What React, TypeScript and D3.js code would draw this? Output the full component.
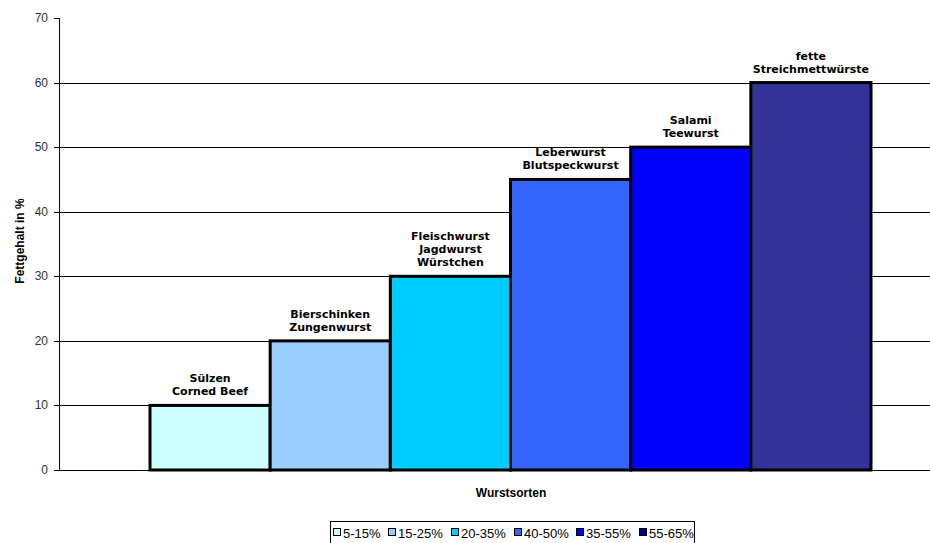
import React from "react";
import * as d3 from "d3";

const categories = ["5-15%", "15-25%", "20-35%", "40-50%", "35-55%", "55-65%"];
const values = [10, 20, 30, 45, 50, 60];
const barLabels = [
  ["Sülzen", "Corned Beef"],
  ["Bierschinken", "Zungenwurst"],
  ["Fleischwurst", "Jagdwurst", "Würstchen"],
  ["Leberwurst", "Blutspeckwurst"],
  ["Salami", "Teewurst"],
  ["fette", "Streichmettwürste"],
];
const barColors = ["#CCFFFF", "#99CCFF", "#00CCFF", "#3366FF", "#0000FF", "#333399"];
const legendColors = ["#CCFFFF", "#99CCFF", "#00CCFF", "#3366FF", "#0000FF", "#000080"];
const yTicks = [0, 10, 20, 30, 40, 50, 60, 70];

export default function App() {
  const W = 930, H = 543;
  const axisX = 59;
  const y = d3.scaleLinear().domain([0, 70]).range([470, 18]);
  const x = d3.scaleBand().domain(categories).range([150, 871]).padding(0);

  const legendX = 330, legendY = 521, legendW = 364, legendH = 24;
  const legendItemX = [333, 388, 451, 514, 576, 639];

  return (
    <svg width={W} height={H} style={{ position: "absolute", left: 0, top: 0, background: "#fff" }}>
      {yTicks.filter((t) => t > 0 && t < 70).map((t) => (
        <line key={t} x1={axisX} x2={W} y1={Math.round(y(t)) + 0.5} y2={Math.round(y(t)) + 0.5} stroke="#000" strokeWidth={1} />
      ))}
      {categories.map((c, i) => (
        <rect key={c} x={x(c)!} y={y(values[i])} width={x.bandwidth()} height={y(0) - y(values[i])}
          fill={barColors[i]} stroke="#000" strokeWidth={3} />
      ))}
      <line x1={axisX} x2={W} y1={470.5} y2={470.5} stroke="#000" strokeWidth={1} />
      <line x1={axisX + 0.5} x2={axisX + 0.5} y1={y(70)} y2={471} stroke="#000" strokeWidth={1} />
      {yTicks.map((t) => (
        <g key={t}>
          <line x1={axisX - 5} x2={axisX} y1={Math.round(y(t)) + 0.5} y2={Math.round(y(t)) + 0.5} stroke="#000" />
          <text x={48} y={y(t) + 4} textAnchor="end" fontFamily="Liberation Sans, Arial, sans-serif" fontSize={12} fill="#333">{t}</text>
        </g>
      ))}
      {categories.map((c, i) => {
        const lines = barLabels[i];
        const cx = x(c)! + x.bandwidth() / 2;
        const base = y(values[i]) - 10;
        return (
          <text key={c} textAnchor="middle" fontFamily="DejaVu Sans, Verdana, sans-serif" fontSize={11} fontWeight="bold" fill="#000">
            {lines.map((l, j) => (
              <tspan key={j} x={cx} y={base - (lines.length - 1 - j) * 13}>{l}</tspan>
            ))}
          </text>
        );
      })}
      <text transform="translate(24,241) rotate(-90)" textAnchor="middle" fontFamily="Liberation Sans, Arial, sans-serif" fontSize={12} fontWeight="bold">Fettgehalt in %</text>
      <text x={511} y={497} textAnchor="middle" fontFamily="Liberation Sans, Arial, sans-serif" fontSize={12} fontWeight="bold">Wurstsorten</text>
      <rect x={legendX + 0.5} y={legendY + 0.5} width={legendW} height={legendH} fill="#fff" stroke="#000" />
      {categories.map((c, i) => (
        <g key={c}>
          <rect x={legendItemX[i] + 0.5} y={528.5} width={7} height={7} fill={legendColors[i]} stroke="#000" />
          <text x={legendItemX[i] + 10} y={537.5} fontFamily="Liberation Sans, Arial, sans-serif" fontSize={13} fill="#000">{c}</text>
        </g>
      ))}
    </svg>
  );
}
